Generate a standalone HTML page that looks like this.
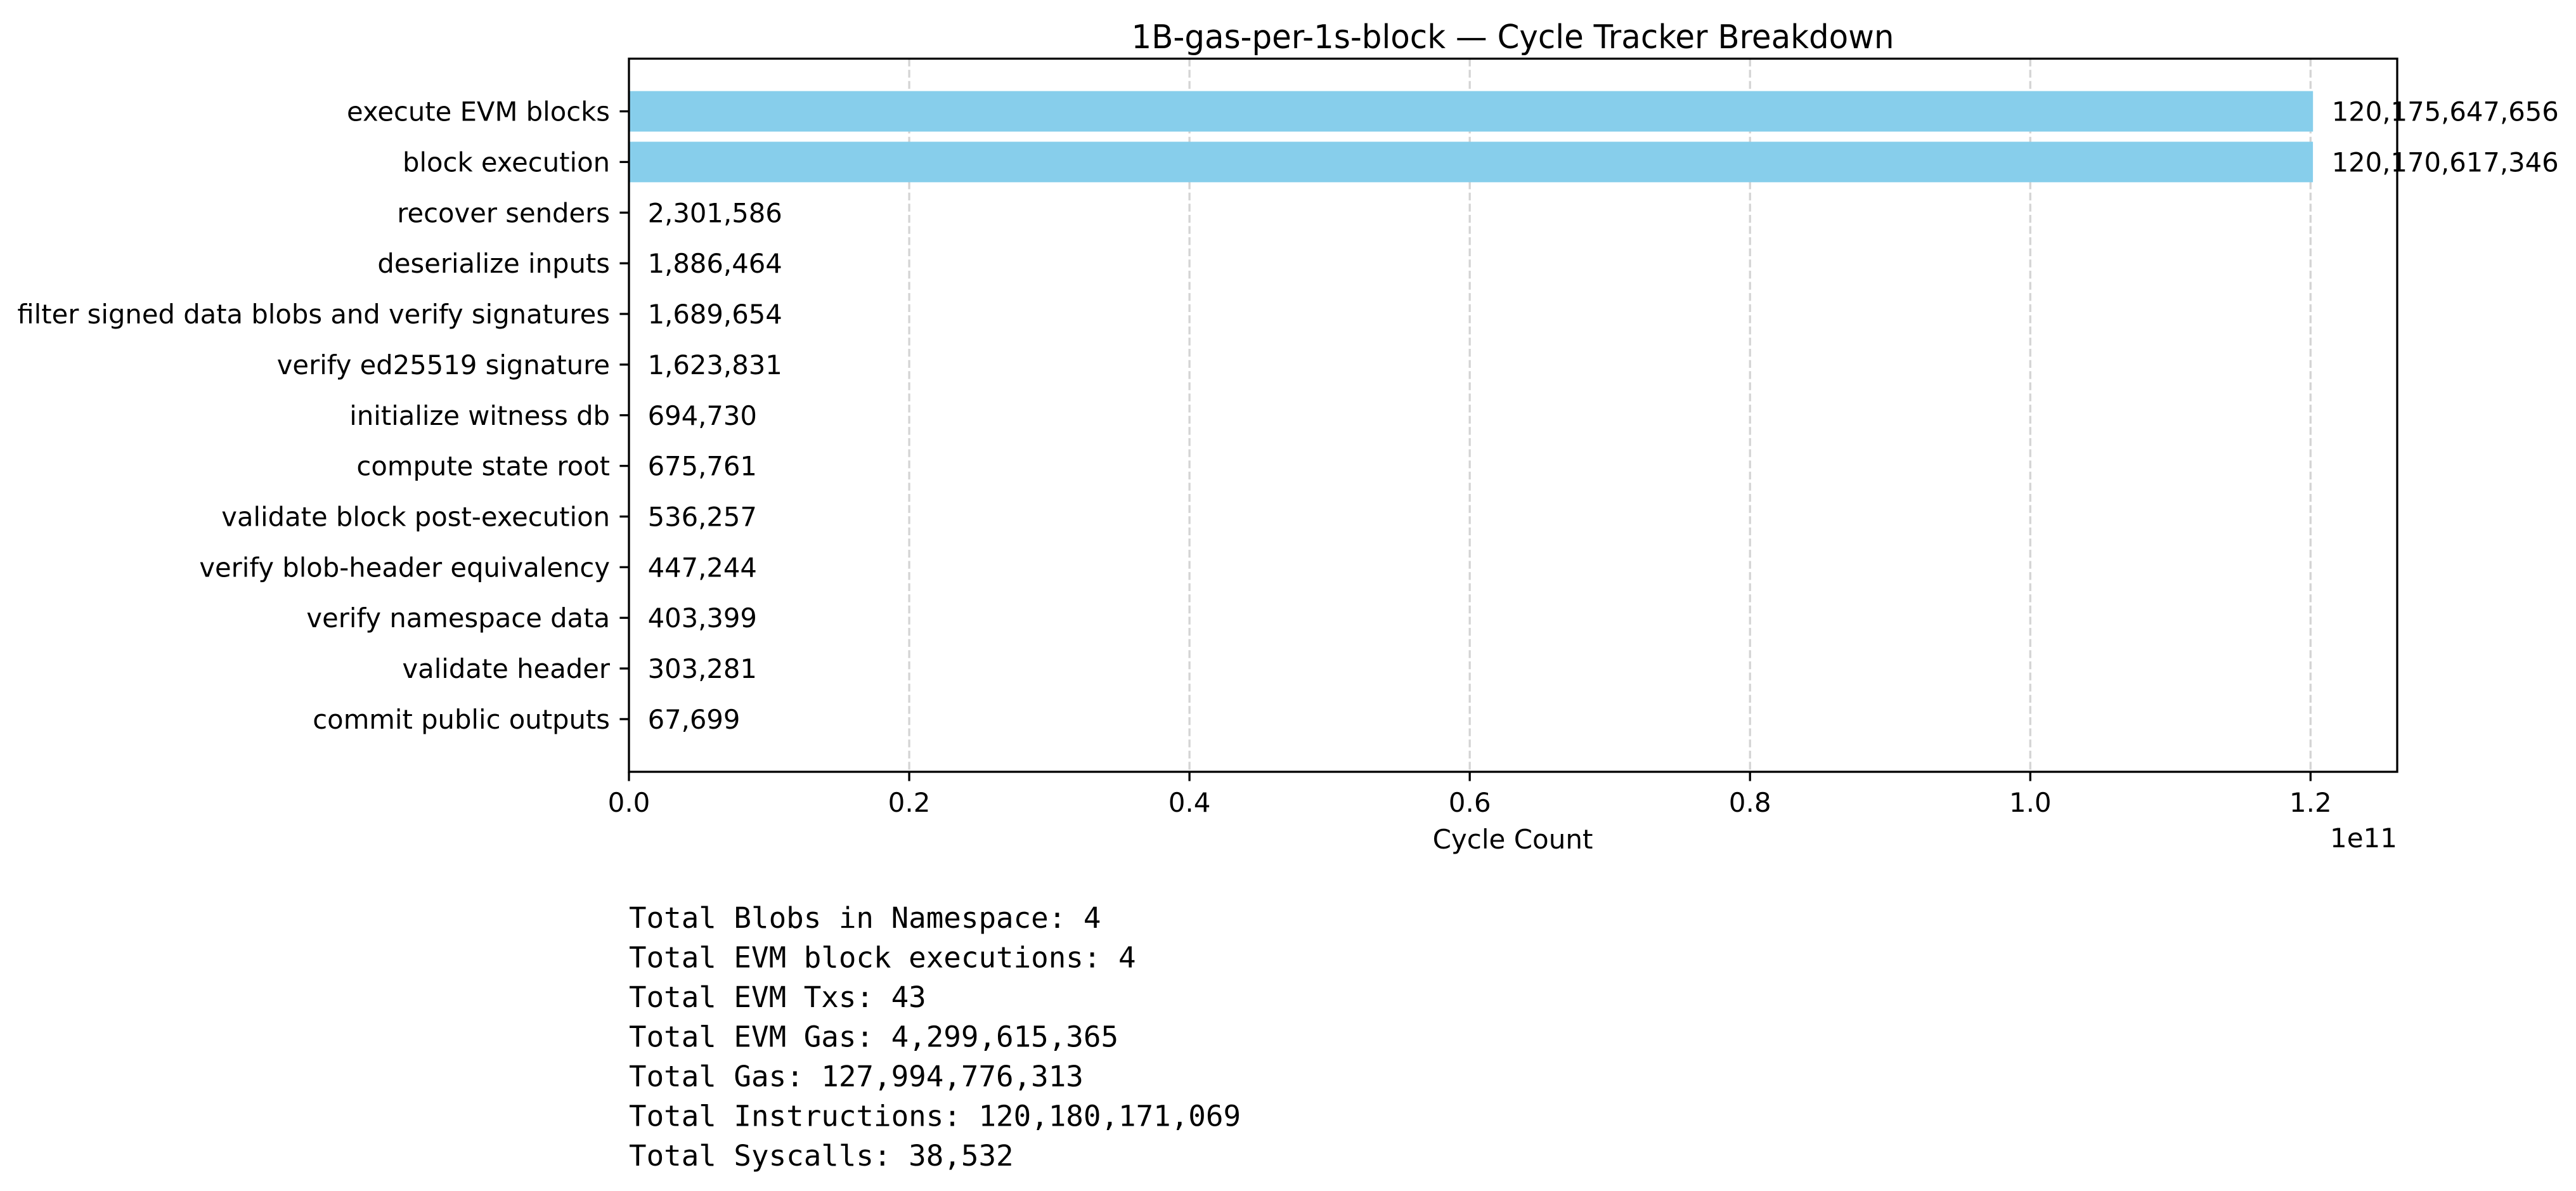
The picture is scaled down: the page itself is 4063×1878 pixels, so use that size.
<!DOCTYPE html>
<html><head><meta charset="utf-8"><style>
html,body{margin:0;padding:0;background:#fff;}
svg{display:block;font-family:"DejaVu Sans","Liberation Sans",sans-serif;}
</style></head><body>
<svg id="chart" width="4063" height="1878" viewBox="0 0 4063 1878" xmlns="http://www.w3.org/2000/svg">
<rect x="0" y="0" width="4063" height="1878" fill="#fff"/>
<text x="2386" y="76" font-size="52" text-anchor="middle" textLength="1203" lengthAdjust="spacingAndGlyphs">1B-gas-per-1s-block — Cycle Tracker Breakdown</text>
<g id="grid"></g>
<g id="bars"></g>
<g id="ylabels"></g>
<g id="vals"></g>
<g id="xticks"></g>
<rect x="992" y="92.5" width="2789" height="1124.5" fill="none" stroke="#000" stroke-width="3.3"/>
<text x="2386" y="1338" font-size="42" text-anchor="middle">Cycle Count</text>
<text x="3781" y="1336" font-size="42" text-anchor="end">1e11</text>
<g font-family="'DejaVu Sans Mono','Liberation Mono',monospace" font-size="45.8">
<text x="992" y="1463">Total Blobs in Namespace: 4</text>
<text x="992" y="1525.5">Total EVM block executions: 4</text>
<text x="992" y="1588">Total EVM Txs: 43</text>
<text x="992" y="1650.5">Total EVM Gas: 4,299,615,365</text>
<text x="992" y="1713">Total Gas: 127,994,776,313</text>
<text x="992" y="1775.5">Total Instructions: 120,180,171,069</text>
<text x="992" y="1838">Total Syscalls: 38,532</text>
</g>
</svg>
<script>
const categories = ["execute EVM blocks","block execution","recover senders","deserialize inputs","filter signed data blobs and verify signatures","verify ed25519 signature","initialize witness db","compute state root","validate block post-execution","verify blob-header equivalency","verify namespace data","validate header","commit public outputs"];
const values = [120175647656,120170617346,2301586,1886464,1689654,1623831,694730,675761,536257,447244,403399,303281,67699];
const xTicks = [0,0.2e11,0.4e11,0.6e11,0.8e11,1.0e11,1.2e11];
const xTickLabels = ["0.0","0.2","0.4","0.6","0.8","1.0","1.2"];

const NS="http://www.w3.org/2000/svg";
const L=992,R=3781,T=92.5,B=1217;
const xMax=Math.max(...values)*1.05;
function xs(v){return L+v/xMax*(R-L);}
const n=categories.length;
const yMin=-0.4-0.05*(n-1+0.8), yMax=n-1+0.4+0.05*(n-1+0.8);
function ys(i){return T+(i-yMin)/(yMax-yMin)*(B-T);}
const bw=(ys(1)-ys(0))*0.8;
function mk(tag,attrs,parent){const e=document.createElementNS(NS,tag);for(const k in attrs)e.setAttribute(k,attrs[k]);document.getElementById(parent).appendChild(e);return e;}

xTicks.forEach((t,i)=>{
  const x=xs(t);
  if(t>0){const g=mk('line',{x1:x,x2:x,y1:T,y2:B,stroke:'#d4d4d4','stroke-width':3.3,'stroke-dasharray':'12.3 5.3'},'grid');
  
  }
  const tk=mk('line',{x1:x,x2:x,y1:B,y2:B+14.6,stroke:'#000','stroke-width':3.3},'xticks');
  
  
  const lb=mk('text',{x:x,y:1280,'font-size':42,'text-anchor':'middle'},'xticks');
  lb.textContent=xTickLabels[i];
  
  
});
categories.forEach((c,i)=>{
  const y=ys(i);
  const r=mk('rect',{x:L,y:y-bw/2,width:xs(values[i])-L,height:bw,fill:'#87ceeb'},'bars');
  
  
  const tk=mk('line',{x1:L-14.6,x2:L,y1:y,y2:y,stroke:'#000','stroke-width':3.3},'ylabels');
  
  
  const lb=mk('text',{x:962,y:y+15,'font-size':41.7,'text-anchor':'end'},'ylabels');
  lb.textContent=c;
  
  
  const v=mk('text',{x:xs(values[i])+Math.max(...values)*0.01/xMax*(R-L)+3,y:y+15,'font-size':41.7},'vals');
  v.textContent=values[i].toLocaleString('en-US');
  
  
});
</script>
</body></html>
